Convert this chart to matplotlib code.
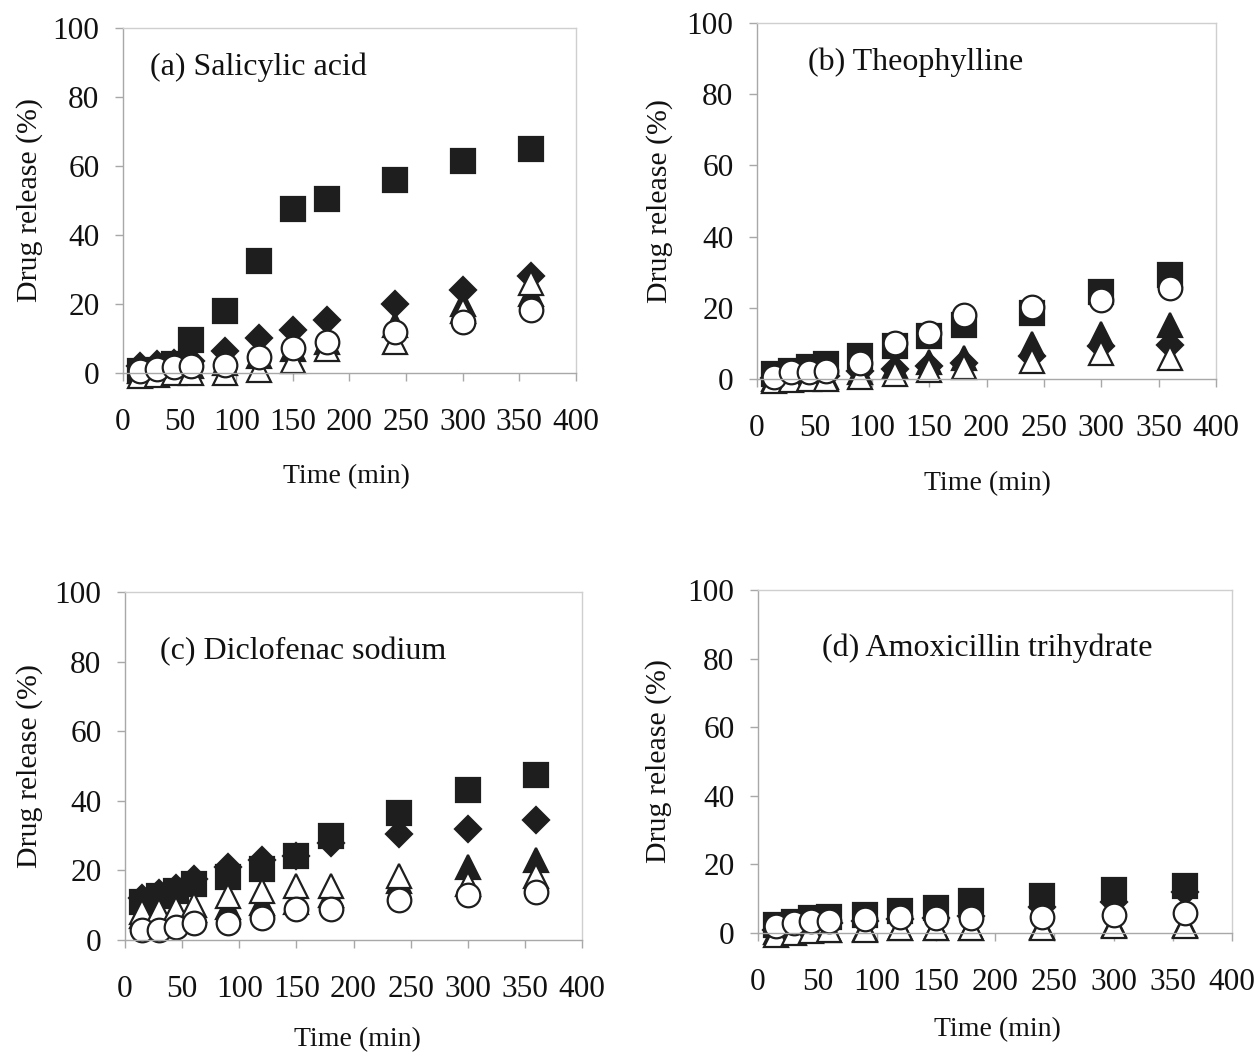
import matplotlib
matplotlib.use("Agg")
from matplotlib import pyplot as plt

plt.rcParams["font.family"] = ["Liberation Serif", "DejaVu Serif"]

# sampling times (min), shared by all four drugs
time = [15, 30, 45, 60, 90, 120, 150, 180, 240, 300, 360]

# (a) Salicylic acid
sq_a = [0.5, 1, 2.5, 9.5, 18, 32.5, 47.5, 50.5, 56, 61.5, 65]
di_a = [2, 2.5, 3, 3.5, 6.5, 10, 12.5, 15.5, 20, 24, 28]
ft_a = [0.5, 1, 1.5, 2, 3, 5, 7, 9, 14, 20, 23]
ot_a = [-1, -0.5, 0, 0, 0, 1, 3.5, 7, 9, 18, 26]
ci_a = [0.5, 1.2, 1.8, 2, 2.3, 4.6, 7.3, 9, 11.8, 14.8, 18.2]

# (b) Theophylline
sq_b = [1.4, 2.3, 3.3, 4.2, 6.5, 9.3, 12, 15.3, 18.6, 24.5, 29.3]
di_b = [0.2, 0.4, 0.6, 0.8, 2.3, 2.8, 3.7, 4.6, 6.5, 9.3, 9.5]
ft_b = [0, 0.2, 0.4, 0.6, 2, 3.7, 4.7, 6, 9.8, 12.6, 15.3]
ot_b = [-0.5, -0.3, 0, 0, 0.5, 1.4, 2.6, 3.3, 5, 7.4, 6]
ci_b = [0.7, 1.9, 1.9, 2.3, 4.5, 10, 13, 17.9, 20.2, 22.1, 25.6]

# (c) Diclofenac sodium
sq_c = [11, 12.5, 14, 16, 18, 20.5, 24, 30, 36.5, 43, 47.5]
di_c = [12, 13.5, 15, 17.5, 21, 23, 24, 28, 30.5, 32, 34.5]
ft_c = [7, 7.5, 8, 8.5, 9.5, 10.5, 11, 13, 17, 21, 23]
ot_c = [8, 8.3, 8.8, 10, 12.5, 14, 15.5, 15.5, 18.5, 16, 18.5]
ci_c = [2.9, 2.9, 3.8, 5, 5, 6.3, 9, 8.8, 11.6, 12.9, 13.9]

# (d) Amoxicillin trihydrate
sq_d = [2.4, 3.3, 4.3, 4.8, 5.3, 6.3, 7.3, 9.2, 10.7, 12.6, 13.6]
di_d = [1, 2, 2.5, 3, 3.5, 4, 4.5, 5, 7.5, 9, 12]
ft_d = [0.3, 0.5, 0.8, 1, 1.2, 1.5, 1.5, 1.5, 1.7, 2.2, 2.4]
ot_d = [-0.5, 0, 0.5, 1, 1, 1.5, 1.5, 1.5, 1.5, 2, 2]
ci_d = [2, 3, 3.5, 3.5, 4, 4.6, 4.5, 4.3, 4.6, 5.3, 5.8]

titles = ["(a) Salicylic acid", "(b) Theophylline",
          "(c) Diclofenac sodium", "(d) Amoxicillin trihydrate"]
y_ticks = [0, 20, 40, 60, 80, 100]
x_ticks = [0, 50, 100, 150, 200, 250, 300, 350, 400]

panels = [
    (sq_a, di_a, ft_a, ot_a, ci_a),
    (sq_b, di_b, ft_b, ot_b, ci_b),
    (sq_c, di_c, ft_c, ot_c, ci_c),
    (sq_d, di_d, ft_d, ot_d, ci_d),
]

# axes boxes in figure fractions, title spot in data coords, label offsets
boxes = [
    [0.0981, 0.6478, 0.3612, 0.3258],
    [0.6037, 0.6421, 0.3660, 0.3362],
    [0.0997, 0.1124, 0.3644, 0.3286],
    [0.6045, 0.1190, 0.3780, 0.3239],
]
title_xy = [(24, 88.7), (44, 89), (31, 82.8), (54, 83)]
xlabel_xy = [(0.494, -0.301), (0.503, -0.295), (0.508, -0.287), (0.504, -0.283)]
ylabel_x = [-0.207, -0.213, -0.210, -0.209]

DARK = "#1e1e1e"
FRAME = "#a8a8a8"
TXT = "#111111"

fig = plt.figure(figsize=(12.54, 10.59), dpi=100)

for i, (sq, di, ft, ot, ci) in enumerate(panels):
    ax = fig.add_axes(boxes[i])
    kw = dict(linestyle="none", clip_on=False, markeredgewidth=1.6)
    ax.plot(time, sq, marker="s", ms=17, color=DARK, mec=DARK, **kw)
    ax.plot(time, di, marker="D", ms=13, color=DARK, mec=DARK, **kw)
    ax.plot(time, ft, marker="^", ms=17, color=DARK, mec=DARK, **kw)
    ax.plot(time, ot, marker="^", ms=17, mfc="white", mec=DARK, **kw)
    ax.plot(time, ci, marker="o", ms=17, mfc="white", mec=DARK, **kw)

    ax.set_xlim(0, 400)
    ax.set_ylim(0, 100)
    ax.set_xticks(x_ticks)
    ax.set_yticks(y_ticks)
    ax.tick_params(axis="both", direction="out", length=6, width=1,
                   color=FRAME, labelsize=22.5, labelcolor=TXT)
    ax.tick_params(axis="x", pad=19)
    ax.tick_params(axis="y", pad=11)
    for side in ["top", "right"]:
        ax.spines[side].set_color("#cfcfcf")
        ax.spines[side].set_linewidth(1)
    for side in ["left", "bottom"]:
        ax.spines[side].set_color(FRAME)
        ax.spines[side].set_linewidth(1)

    ax.text(title_xy[i][0], title_xy[i][1], titles[i], fontsize=23,
            ha="left", va="center", color=TXT)
    ax.text(xlabel_xy[i][0], xlabel_xy[i][1], "Time (min)", fontsize=20,
            ha="center", va="center", transform=ax.transAxes, color=TXT)
    ax.text(ylabel_x[i], 0.5, "Drug release (%)", fontsize=21.5, rotation=90,
            ha="center", va="center", transform=ax.transAxes, color=TXT)

plt.savefig("out.png", dpi=100)
